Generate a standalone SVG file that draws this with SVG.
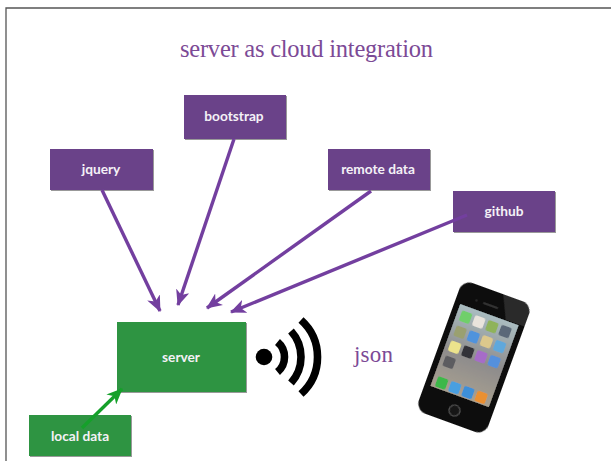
<svg xmlns="http://www.w3.org/2000/svg" width="611" height="461" viewBox="0 0 611 461">
<style>
.p{fill:#6b4389;filter:url(#sh)}
.g{fill:#2e9443;filter:url(#sh)}
.l{font:700 13.7px "Lato",sans-serif;fill:#f4f1f6;text-anchor:middle}
.t{font-family:"Liberation Serif",serif;fill:#7c4a96}
.c{fill:none;stroke-width:3.4}
.a{fill:none;stroke:#000;stroke-width:7.6}
</style>
<defs>
<filter id="sh" x="-5%" y="-5%" width="112%" height="115%"><feDropShadow dx="1" dy="1" stdDeviation="0.7" flood-color="#000" flood-opacity="0.4"/></filter>
<filter id="soft" x="-5%" y="-5%" width="110%" height="110%"><feGaussianBlur stdDeviation="0.6"/></filter>
<linearGradient id="sc" x1="0" y1="0" x2="0" y2="1"><stop offset="0" stop-color="#a9bcc0"/><stop offset="0.55" stop-color="#8e8c8c"/><stop offset="1" stop-color="#a8a090"/></linearGradient>
<marker id="mp" viewBox="0 0 16 14" markerUnits="userSpaceOnUse" markerWidth="16" markerHeight="14" refX="15" refY="7" orient="auto"><path d="M0 0L16 7L0 14L4.5 7Z" fill="#733f9f"/></marker>
<marker id="mg" viewBox="0 0 16 14" markerUnits="userSpaceOnUse" markerWidth="16" markerHeight="14" refX="15" refY="7" orient="auto"><path d="M0 0L16 7L0 14L4.5 7Z" fill="#15a02a"/></marker>
</defs>
<rect width="611" height="461" fill="#fff"/>
<path id="frame" d="M611 8H6V461" fill="none" stroke="#555" stroke-width="1.3"/>
<text id="title" class="t" x="180" y="57" font-size="24.5" textLength="253" lengthAdjust="spacing">server as cloud integration</text>
<g id="jquery"><rect class="p" x="50" y="149" width="103" height="41"/><text class="l" x="101" y="174">jquery</text></g>
<g id="bootstrap"><rect class="p" x="184" y="95" width="102" height="44"/><text class="l" x="234" y="121">bootstrap</text></g>
<g id="remote-data"><rect class="p" x="328" y="149" width="102" height="41"/><text class="l" x="378" y="174">remote data</text></g>
<g id="github"><rect class="p" x="453" y="191" width="102" height="41"/><text class="l" x="504" y="216">github</text></g>
<g id="server"><rect class="g" x="117" y="322" width="129" height="70"/><text class="l" x="181" y="362">server</text></g>
<g id="local-data"><rect class="g" x="29" y="415" width="102" height="41"/><text class="l" x="80" y="441">local data</text></g>
<g id="connectors">
<path class="c" stroke="#733f9f" marker-end="url(#mp)" d="M102 190L160 311"/>
<path class="c" stroke="#733f9f" marker-end="url(#mp)" d="M234 139L178 305"/>
<path class="c" stroke="#733f9f" marker-end="url(#mp)" d="M371 191L207 308"/>
<path class="c" stroke="#733f9f" marker-end="url(#mp)" d="M467 215L231 312"/>
<path class="c" stroke="#15a02a" marker-end="url(#mg)" d="M82 428L122 389"/>
</g>
<g id="wifi">
<circle cx="264" cy="357" r="8.3"/>
<path class="a" d="M277.5 342A19.6 19.6 0 0 1 277.5 372"/>
<path class="a" d="M291 331A38.8 38.8 0 0 1 291 383"/>
<path class="a" d="M301 320A49.7 49.7 0 0 1 301 394"/>
</g>
<text id="json" class="t" x="354" y="362" font-size="23" textLength="39">json</text>
<g id="phone" transform="translate(474 357) rotate(20)" filter="url(#soft)">
<rect x="-37" y="-69" width="74" height="139" rx="11" fill="#0b0b0b"/>
<path d="M6 -69H26A11 11 0 0 1 37 -58V-46H17Z" fill="#2a2a2a"/>
<rect x="-31" y="-45" width="62" height="87" fill="url(#sc)"/>
<rect x="-10" y="-55" width="16" height="2" rx="1" fill="#333"/>
<circle cx="-17" cy="-54" r="1" fill="#333"/>
<circle cx="0" cy="57" r="5.5" fill="#181818" stroke="#555" stroke-width="1.2"/>
<rect x="-27" y="-40" width="11" height="11" rx="2" fill="#6fcf6a"/>
<rect x="-13" y="-40" width="11" height="11" rx="2" fill="#e9e4dc"/>
<rect x="1" y="-40" width="11" height="11" rx="2" fill="#8fb35a"/>
<rect x="15" y="-40" width="11" height="11" rx="2" fill="#5a6878"/>
<rect x="-27" y="-24" width="11" height="11" rx="2" fill="#9aa070"/>
<rect x="-13" y="-24" width="11" height="11" rx="2" fill="#4f93dc"/>
<rect x="1" y="-24" width="11" height="11" rx="2" fill="#dcc88c"/>
<rect x="15" y="-24" width="11" height="11" rx="2" fill="#5ea8dc"/>
<rect x="-27" y="-8" width="11" height="11" rx="2" fill="#ece38c"/>
<rect x="-13" y="-8" width="11" height="11" rx="2" fill="#333338"/>
<rect x="1" y="-8" width="11" height="11" rx="2" fill="#a66cc8"/>
<rect x="15" y="-8" width="11" height="11" rx="2" fill="#5490dc"/>
<rect x="-27" y="8" width="11" height="11" rx="2" fill="#5c5c60"/>
<rect x="-27" y="30" width="11" height="11" rx="2" fill="#3cb84a"/>
<rect x="-13" y="30" width="11" height="11" rx="2" fill="#4a9fe0"/>
<rect x="1" y="30" width="11" height="11" rx="2" fill="#3c8fd8"/>
<rect x="15" y="30" width="11" height="11" rx="2" fill="#ea9030"/>
</g>
</svg>
